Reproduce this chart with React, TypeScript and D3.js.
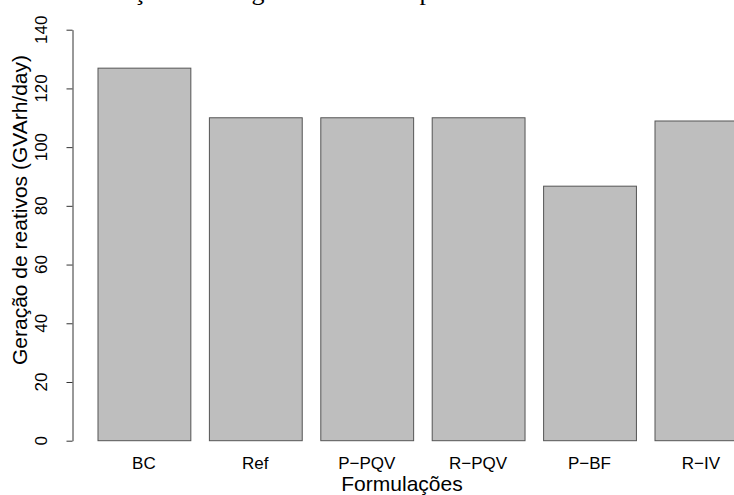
import { useEffect, useRef } from "react";
import * as d3 from "d3";

const WIDTH = 734;
const HEIGHT = 495;

const categories = ["BC", "Ref", "P-PQV", "R-PQV", "P-BF", "R-IV"];
const values = [126.9, 110.0, 110.0, 110.0, 86.7, 108.9];
const yTicks = [0, 20, 40, 60, 80, 100, 120, 140];

const titleText = "Geração de energia reativa total por modelo adotado";
const yTitle = "Geração de reativos (GVArh/day)";
const xTitle = "Formulações";

// R draws the hyphen as a minus sign
const label = (s: string) => s.replace(/-/g, "\u2212");

export default function App() {
  const axisRef = useRef<SVGGElement>(null);

  const yScale = d3.scaleLinear().domain([0, 140]).range([440.7, 29.7]);
  const step = 111.4;
  const xScale = d3
    .scaleBand<string>()
    .domain(categories)
    .range([97.5, 97.5 + step * (categories.length - 1 / 6)])
    .paddingInner(1 / 6)
    .paddingOuter(0);

  useEffect(() => {
    const g = d3.select(axisRef.current);
    g.selectAll("*").remove();
    const axis = d3
      .axisLeft(yScale)
      .tickValues(yTicks)
      .tickSize(6)
      .tickSizeOuter(0)
      .tickFormat(() => "");
    g.attr("transform", "translate(72.5,0)").call(axis);
    g.select(".domain").attr("stroke", "#333");
    g.selectAll(".tick line").attr("stroke", "#333");
  }, []);

  return (
    <svg
      width={WIDTH}
      height={HEIGHT}
      style={{ position: "absolute", left: 0, top: 0, background: "#fff" }}
      fontFamily="'Liberation Sans', Arial, sans-serif"
    >
      <text
        x={83}
        y={-0.5}
        fontFamily="'Liberation Serif', 'Times New Roman', serif"
        fontSize={26}
        fill="#000"
      >
        {titleText}
      </text>

      {categories.map((c, i) => (
        <rect
          key={c}
          x={(xScale(c) ?? 0) + 0.5}
          y={yScale(values[i])}
          width={xScale.bandwidth()}
          height={yScale(0) - yScale(values[i])}
          fill="#bebebe"
          stroke="#555"
          strokeWidth={1}
        />
      ))}

      <g ref={axisRef} />

      {yTicks.map((t) => (
        <text
          key={t}
          transform={`translate(47,${yScale(t)}) rotate(-90)`}
          textAnchor="middle"
          fontSize={17}
          fill="#000"
        >
          {t}
        </text>
      ))}

      {categories.map((c) => (
        <text
          key={c}
          x={(xScale(c) ?? 0) + xScale.bandwidth() / 2}
          y={469}
          textAnchor="middle"
          fontSize={17}
          fill="#000"
        >
          {label(c)}
        </text>
      ))}

      <text x={402} y={491} textAnchor="middle" fontSize={21} fill="#000">
        {xTitle}
      </text>

      <text
        transform={`translate(27,210) rotate(-90)`}
        textAnchor="middle"
        fontSize={21}
        fill="#000"
      >
        {yTitle}
      </text>
    </svg>
  );
}
